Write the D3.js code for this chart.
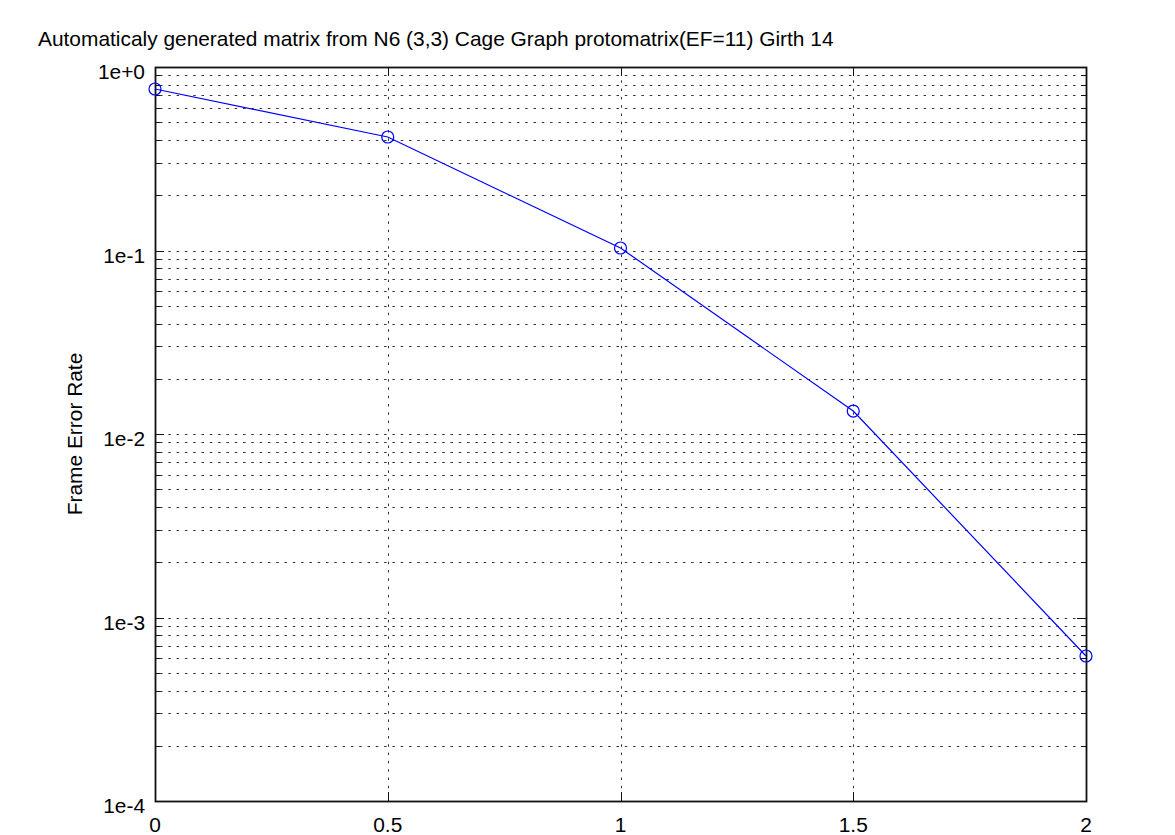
<!DOCTYPE html>
<html>
<head>
<meta charset="utf-8">
<script src="https://cdn.jsdelivr.net/npm/d3@7"></script>
<style>
  body { margin: 0; background: #fff; }
  text { font-family: "Liberation Sans", Arial, sans-serif; fill: #000; }
</style>
</head>
<body>
<div id="chart"></div>
<script>
// data
const snrValues = [0, 0.5, 1, 1.5, 2];
const ferValues = [0.759, 0.4155, 0.1032, 0.01334, 0.000617];
const xTickValues = [0, 0.5, 1, 1.5, 2];
const xTickLabels = ['0', '0.5', '1', '1.5', '2'];
const yTickValues = [1, 1e-1, 1e-2, 1e-3, 1e-4];
const yTickLabels = ['1e+0', '1e-1', '1e-2', '1e-3', '1e-4'];
const titleText = 'Automaticaly generated matrix from N6 (3,3) Cage Graph protomatrix(EF=11) Girth 14';
const yLabelText = 'Frame Error Rate';

const width = 1175, height = 835;
const margin = { top: 67, right: 89, bottom: 34, left: 155 };
const plotW = width - margin.left - margin.right;
const plotH = height - margin.top - margin.bottom;
const fontSize = '20.9px';

const svg = d3.select('#chart').append('svg')
  .attr('width', width)
  .attr('height', height);

const x = d3.scaleLinear().domain([0, 2]).range([margin.left, margin.left + plotW]);
const y = d3.scaleLog().domain([1e-4, 1]).range([margin.top + plotH, margin.top]);

// all minor positions (1..9 per decade)
const minorValues = [];
for (let e = -4; e < 0; e++) {
  for (let k = 1; k < 10; k++) minorValues.push(k * Math.pow(10, e));
}
minorValues.push(1);

const grid = svg.append('g')
  .attr('stroke', '#333')
  .attr('stroke-width', 1)
  .attr('stroke-dasharray', '2.5,5.8');

grid.selectAll('line.h')
  .data(minorValues.filter((v) => v > 1e-4 && v < 1))
  .enter().append('line')
    .attr('class', 'h')
    .attr('x1', x(0) + 5).attr('x2', x(2))
    .attr('y1', (d) => Math.round(y(d)) + 0.5)
    .attr('y2', (d) => Math.round(y(d)) + 0.5);

grid.selectAll('line.v')
  .data(xTickValues.filter((v) => v > 0 && v < 2))
  .enter().append('line')
    .attr('class', 'v')
    .attr('x1', (d) => Math.round(x(d)) + 0.5)
    .attr('x2', (d) => Math.round(x(d)) + 0.5)
    .attr('y1', y(1) + 5).attr('y2', y(1e-4));

// inward ticks on left and right
const ticks = svg.append('g').attr('stroke', '#111').attr('stroke-width', 1);
minorValues.forEach((v) => {
  const isMajor = yTickValues.includes(v);
  const len = isMajor ? 9 : 5;
  const yy = Math.round(y(v)) + 0.5;
  ticks.append('line').attr('x1', x(0)).attr('x2', x(0) + len).attr('y1', yy).attr('y2', yy);
  ticks.append('line').attr('x1', x(2)).attr('x2', x(2) - len).attr('y1', yy).attr('y2', yy);
});
xTickValues.forEach((v) => {
  const xx = Math.round(x(v)) + 0.5;
  ticks.append('line').attr('x1', xx).attr('x2', xx).attr('y1', y(1e-4)).attr('y2', y(1e-4) - 9);
  ticks.append('line').attr('x1', xx).attr('x2', xx).attr('y1', y(1)).attr('y2', y(1) + 9);
});

// border
svg.append('rect')
  .attr('x', Math.round(x(0)) + 0.5)
  .attr('y', Math.round(y(1)) + 0.5)
  .attr('width', Math.round(x(2)) - Math.round(x(0)))
  .attr('height', Math.round(y(1e-4)) - Math.round(y(1)))
  .attr('fill', 'none')
  .attr('stroke', '#111')
  .attr('stroke-width', 1.8);

// tick labels
svg.append('g').selectAll('text')
  .data(yTickValues)
  .enter().append('text')
    .attr('x', margin.left - 10)
    .attr('y', (d) => y(d) + 12)
    .attr('text-anchor', 'end')
    .style('font-size', fontSize)
    .text((d, i) => yTickLabels[i]);

svg.append('g').selectAll('text')
  .data(xTickValues)
  .enter().append('text')
    .attr('x', (d) => x(d))
    .attr('y', 832)
    .attr('text-anchor', 'middle')
    .style('font-size', fontSize)
    .text((d, i) => xTickLabels[i]);

// title and axis label
svg.append('text')
  .attr('x', 38)
  .attr('y', 46)
  .style('font-size', fontSize)
  .text(titleText);

svg.append('text')
  .attr('transform', `translate(82,${(y(1) + y(1e-4)) / 2}) rotate(-90)`)
  .attr('text-anchor', 'middle')
  .style('font-size', fontSize)
  .text(yLabelText);

// series
const line = d3.line()
  .x((d, i) => x(snrValues[i]))
  .y((d) => y(d));

svg.append('path')
  .datum(ferValues)
  .attr('d', line)
  .attr('fill', 'none')
  .attr('stroke', '#0000ff')
  .attr('stroke-width', 1.2);

svg.append('g').selectAll('circle')
  .data(ferValues)
  .enter().append('circle')
    .attr('cx', (d, i) => x(snrValues[i]))
    .attr('cy', (d) => y(d))
    .attr('r', 6)
    .attr('fill', 'none')
    .attr('stroke', '#0000ff')
    .attr('stroke-width', 1.2);
</script>
</body>
</html>
